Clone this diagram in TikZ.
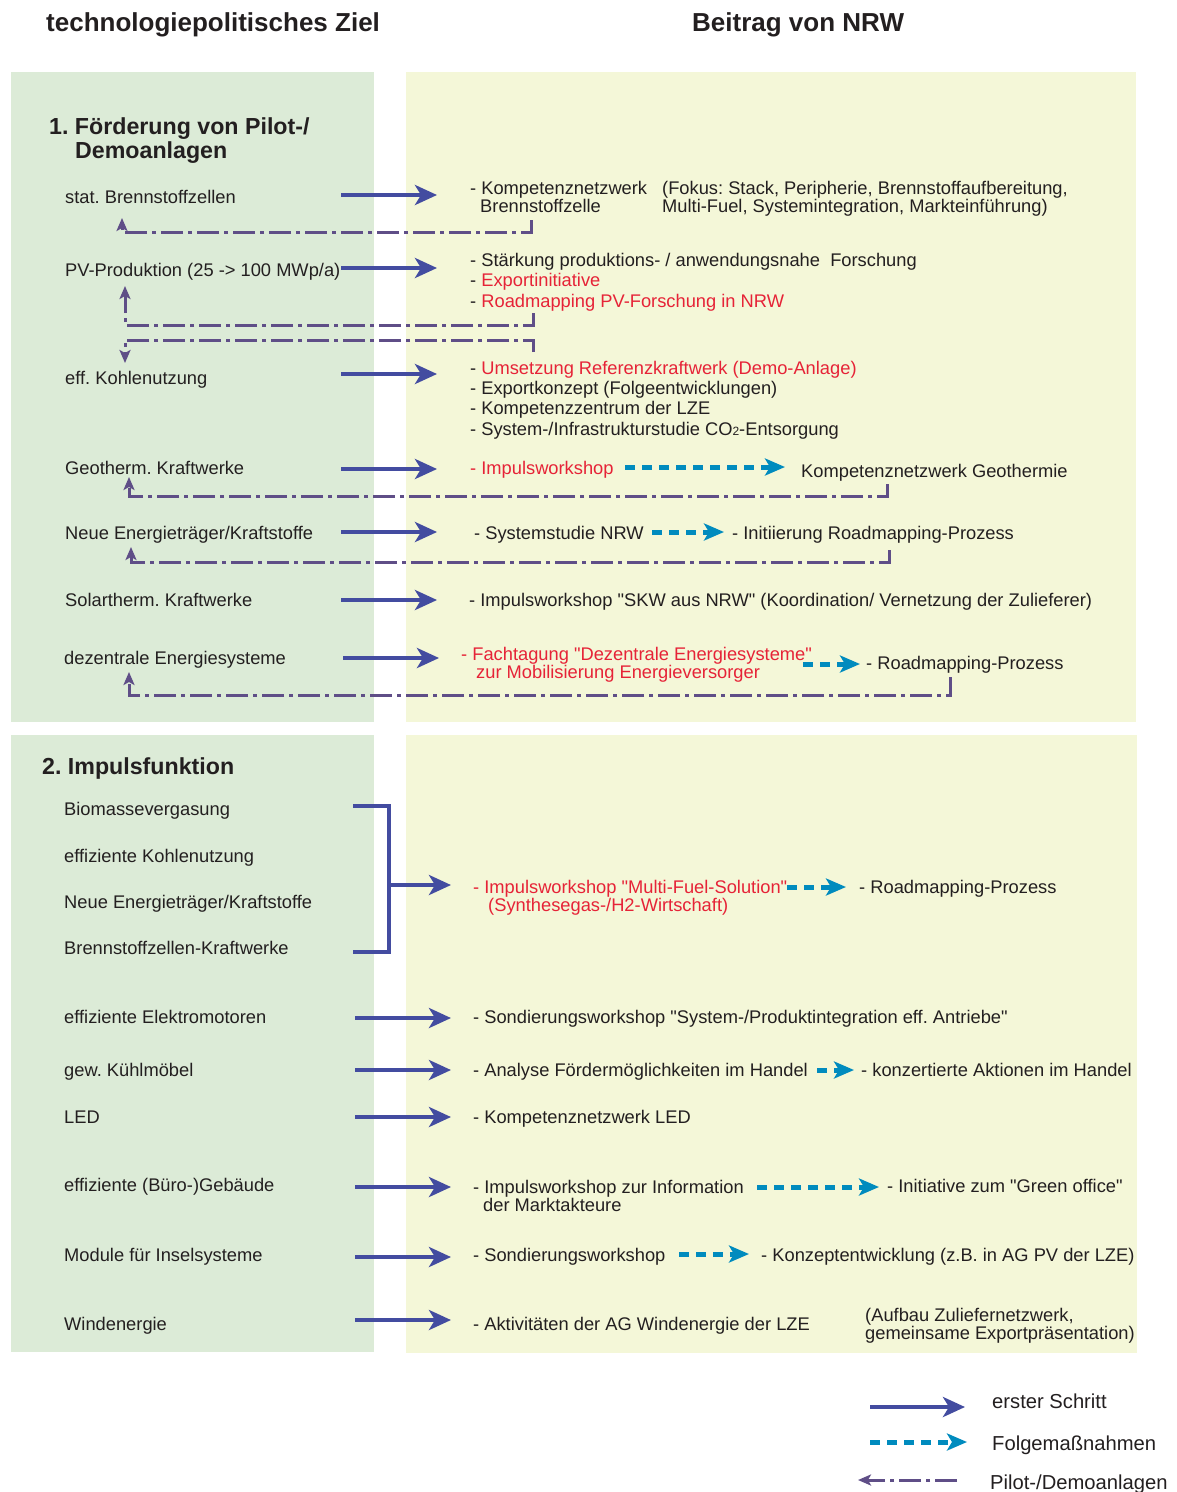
\documentclass[tikz,border=0pt]{standalone}
\usepackage{fontspec}
\setmainfont{Liberation Sans}[Ligatures=TeXOff]
\usetikzlibrary{arrows.meta}
\frenchspacing

\definecolor{zielgruen}{RGB}{220,235,215}
\definecolor{beitraggelb}{RGB}{244,247,216}
\definecolor{ink}{RGB}{35,31,32}
\definecolor{signal}{RGB}{230,35,55}
\definecolor{schrittblau}{RGB}{67,76,160}
\definecolor{folgecyan}{RGB}{0,139,190}
\definecolor{pilotlila}{RGB}{95,78,135}

\begin{document}
\begin{tikzpicture}[x=1pt,y=-1pt,
  txt/.style={anchor=base west, inner sep=0pt, font=\fontsize{18.3}{18}\selectfont, text=ink},
  rtxt/.style={txt, text=signal},
  legtxt/.style={txt, font=\fontsize{20.2}{20}\selectfont},
  head/.style={anchor=base west, inner sep=0pt, font=\fontsize{26}{26}\selectfont\bfseries, text=ink},
  sectitle/.style={anchor=base west, inner sep=0pt, font=\fontsize{23.2}{24}\selectfont\bfseries, text=ink},
  schritt/.style={draw=schrittblau, line width=4.5pt, -{Stealth[length=22pt,width=20pt,inset=6pt]}},
  klammer/.style={draw=schrittblau, line width=4pt},
  folge/.style={draw=folgecyan, line width=5pt, dash pattern=on 10pt off 7pt, -{Stealth[length=20pt,width=17pt,inset=5pt]}},
  pilot/.style={draw=pilotlila, line width=3pt, dash pattern=on 22pt off 5pt on 4pt off 5pt, -{Stealth[length=13pt,width=11pt,inset=3pt]}},
]
\useasboundingbox (0,0) rectangle (1177,1492);
\fill[white] (0,0) rectangle (1177,1492);

% column backgrounds
\fill[zielgruen]   (11,72)  rectangle (374,722);
\fill[beitraggelb] (406,72) rectangle (1136,722);
\fill[zielgruen]   (11,735) rectangle (374,1352);
\fill[beitraggelb] (406,735) rectangle (1137,1353);

% column headings
\node[head] (hziel) at (46,31) {technologiepolitisches Ziel};
\node[head] (hnrw) at (692,31) {Beitrag von NRW};

% ---------- 1. Förderung von Pilot-/Demoanlagen ----------
\node[sectitle] (s1a) at (49,134) {1. Förderung von Pilot-/};
\node[sectitle] (s1b) at (75,158) {Demoanlagen};

\node[txt] (z1) at (65,203) {stat. Brennstoffzellen};
\node[txt] (z2) at (65,276) {PV-Produktion (25 -> 100 MWp/a)};
\node[txt] (z3) at (65,384) {eff. Kohlenutzung};
\node[txt] (z4) at (65,474) {Geotherm. Kraftwerke};
\node[txt] (z5) at (65,539) {Neue Energieträger/Kraftstoffe};
\node[txt] (z6) at (65,606) {Solartherm. Kraftwerke};
\node[txt] (z7) at (64,664) {dezentrale Energiesysteme};

% contributions
\node[txt] (b1a) at (470,194) {- Kompetenznetzwerk};
\node[txt] (b1b) at (480,212) {Brennstoffzelle};
\node[txt] (b1c) at (662,194) {(Fokus: Stack, Peripherie, Brennstoffaufbereitung,};
\node[txt] (b1d) at (662,212) {Multi-Fuel, Systemintegration, Markteinführung)};

\node[txt] (b2a) at (470,266) {- Stärkung produktions- / anwendungsnahe\ \ Forschung};
\node[txt] (b2b) at (470,286) {- \textcolor{signal}{Exportinitiative}};
\node[txt] (b2c) at (470,307) {- \textcolor{signal}{Roadmapping PV-Forschung in NRW}};

\node[txt] (b3a) at (470,374) {- \textcolor{signal}{Umsetzung Referenzkraftwerk (Demo-Anlage)}};
\node[txt] (b3b) at (470,394) {- Exportkonzept (Folgeentwicklungen)};
\node[txt] (b3c) at (470,414) {- Kompetenzzentrum der LZE};
\node[txt] (b3d) at (470,435) {- System-/Infrastrukturstudie CO{\fontsize{12}{12}\selectfont 2}-Entsorgung};

\node[rtxt] (b4a) at (470,474) {- Impulsworkshop};
\node[txt] (b4b) at (801,477) {Kompetenznetzwerk Geothermie};

\node[txt] (b5a) at (474,539) {- Systemstudie NRW};
\node[txt] (b5b) at (732,539) {- Initiierung Roadmapping-Prozess};

\node[txt] (b6a) at (469,606) {- Impulsworkshop "SKW aus NRW" (Koordination/ Vernetzung der Zulieferer)};

\node[rtxt] (b7a) at (461,660) {- Fachtagung "Dezentrale Energiesysteme"};
\node[rtxt] (b7b) at (476,678) {zur Mobilisierung Energieversorger};
\node[txt] (b7c) at (866,669) {- Roadmapping-Prozess};

% first steps
\foreach \y/\n in {195/1,268/2,374/3,469/4,532/5,600/6}{
  \coordinate (s\n) at (341,\y);
  \coordinate (e\n) at (437,\y);
  \draw[schritt] (s\n) -- (e\n);
}
\coordinate (s7) at (343,658);
\coordinate (e7) at (439,658);
\draw[schritt] (s7) -- (e7);

% follow-up measures
\coordinate (f4s) at (625,467); \coordinate (f4e) at (785,467);
\draw[folge] (f4s) -- (f4e);
\coordinate (f5s) at (652,532); \coordinate (f5e) at (724,532);
\draw[folge] (f5s) -- (f5e);
\coordinate (f7s) at (803,664); \coordinate (f7e) at (860,664);
\draw[folge] (f7s) -- (f7e);

% pilot / demo feedback
\coordinate (p1a) at (531,220); \coordinate (p1t) at (122,218);
\draw[pilot] (p1a) -- (531,232) -- (122,232) -- (p1t);
\coordinate (p2a) at (533,313); \coordinate (p2t) at (125,286);
\draw[pilot] (p2a) -- (533,325) -- (125,325) -- (p2t);
\coordinate (p3a) at (533,352); \coordinate (p3t) at (125,363);
\draw[pilot] (p3a) -- (533,340) -- (125,340) -- (p3t);
\coordinate (p4a) at (887,484); \coordinate (p4t) at (129,477);
\draw[pilot] (p4a) -- (887,496) -- (129,496) -- (p4t);
\coordinate (p5a) at (889,550); \coordinate (p5t) at (131,547);
\draw[pilot] (p5a) -- (889,562) -- (131,562) -- (p5t);
\coordinate (p7a) at (950,677); \coordinate (p7t) at (129,672);
\draw[pilot] (p7a) -- (950,695) -- (129,695) -- (p7t);

% ---------- 2. Impulsfunktion ----------
\node[sectitle] (s2) at (42,774) {2. Impulsfunktion};

\node[txt] (y1) at (64,815) {Biomassevergasung};
\node[txt] (y2) at (64,862) {effiziente Kohlenutzung};
\node[txt] (y3) at (64,908) {Neue Energieträger/Kraftstoffe};
\node[txt] (y4) at (64,954) {Brennstoffzellen-Kraftwerke};
\node[txt] (y5) at (64,1023) {effiziente Elektromotoren};
\node[txt] (y6) at (64,1076) {gew. Kühlmöbel};
\node[txt] (y7) at (64,1123) {LED};
\node[txt] (y8) at (64,1191) {effiziente (Büro-)Gebäude};
\node[txt] (y9) at (64,1261) {Module für Inselsysteme};
\node[txt] (y10) at (64,1330) {Windenergie};

\node[rtxt] (c1a) at (473,893) {- Impulsworkshop "Multi-Fuel-Solution"};
\node[rtxt] (c1b) at (488,911) {(Synthesegas-/H2-Wirtschaft)};
\node[txt] (c1c) at (859,893) {- Roadmapping-Prozess};

\node[txt] (c5) at (473,1023) {- Sondierungsworkshop "System-/Produktintegration eff. Antriebe"};
\node[txt] (c6a) at (473,1076) {- Analyse Fördermöglichkeiten im Handel};
\node[txt] (c6b) at (861,1076) {- konzertierte Aktionen im Handel};
\node[txt] (c7) at (473,1123) {- Kompetenznetzwerk LED};
\node[txt] (c8a) at (473,1193) {- Impulsworkshop zur Information};
\node[txt] (c8b) at (483,1211) {der Marktakteure};
\node[txt] (c8c) at (887,1192) {- Initiative zum "Green office"};
\node[txt] (c9a) at (473,1261) {- Sondierungsworkshop};
\node[txt] (c9b) at (761,1261) {- Konzeptentwicklung (z.B. in AG PV der LZE)};
\node[txt] (c10a) at (473,1330) {- Aktivitäten der AG Windenergie der LZE};
\node[txt] (c10b) at (865,1321) {(Aufbau Zuliefernetzwerk,};
\node[txt] (c10c) at (865,1339) {gemeinsame Exportpräsentation)};

% bracket joining four goals
\coordinate (k1) at (353,806);
\coordinate (k2) at (353,952);
\draw[klammer] (k1) -- (389,806) -- (389,952) -- (k2);
\coordinate (ks) at (389,885); \coordinate (ke) at (451,885);
\draw[schritt] (ks) -- (ke);

\foreach \y/\n in {1018/5,1070/6,1117/7,1187/8,1257/9,1320/10}{
  \coordinate (t\n) at (355,\y);
  \coordinate (u\n) at (451,\y);
  \draw[schritt] (t\n) -- (u\n);
}

\coordinate (g1s) at (787,887); \coordinate (g1e) at (846,887);
\draw[folge] (g1s) -- (g1e);
\coordinate (g6s) at (817,1070); \coordinate (g6e) at (854,1070);
\draw[folge] (g6s) -- (g6e);
\coordinate (g8s) at (757,1187); \coordinate (g8e) at (879,1187);
\draw[folge] (g8s) -- (g8e);
\coordinate (g9s) at (679,1254); \coordinate (g9e) at (749,1254);
\draw[folge] (g9s) -- (g9e);

% ---------- legend ----------
\coordinate (l1s) at (870,1407); \coordinate (l1e) at (965,1407);
\draw[schritt] (l1s) -- (l1e);
\node[legtxt] (l1) at (992,1408) {erster Schritt};
\coordinate (l2s) at (870,1442); \coordinate (l2e) at (967,1442);
\draw[folge] (l2s) -- (l2e);
\node[legtxt] (l2) at (992,1450) {Folgemaßnahmen};
\coordinate (l3s) at (957,1480); \coordinate (l3e) at (858,1480);
\draw[pilot] (l3s) -- (l3e);
\node[legtxt] (l3) at (990,1489) {Pilot-/Demoanlagen};
\end{tikzpicture}
\end{document}
